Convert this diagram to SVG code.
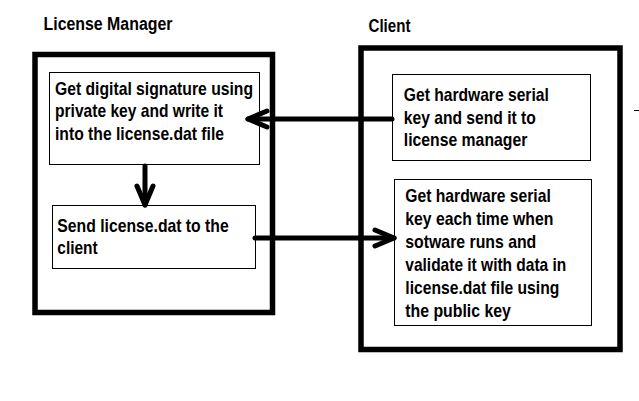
<svg xmlns="http://www.w3.org/2000/svg" width="639" height="401" viewBox="0 0 639 401">
  <style>
    .outer { fill: none; stroke: #000; stroke-width: 5.5; }
    .inner { fill: #fff; stroke: #000; stroke-width: 1; }
    .t { font-family: "Liberation Sans", Arial, sans-serif; font-weight: bold; font-size: 18.5px; fill: #000; }
    .title { font-family: "Liberation Sans", Arial, sans-serif; font-weight: bold; font-size: 17.5px; fill: #000; }
    .conn { fill: none; stroke: #000; stroke-width: 5; stroke-linecap: round; }
  </style>
  <defs>
    <marker id="chev" viewBox="-24 -12 28 24" markerWidth="28" markerHeight="24" refX="0" refY="0" orient="auto" markerUnits="userSpaceOnUse">
      <path d="M-19,-8 L0,0 L-19,8" fill="none" stroke="#000" stroke-width="5" stroke-linecap="round" stroke-linejoin="round"/>
    </marker>
  </defs>
  <rect width="639" height="401" fill="#fff"/>

  <g id="license-manager">
    <text class="title" x="43.5" y="29.5" textLength="129" lengthAdjust="spacingAndGlyphs">License Manager</text>
    <rect class="outer" x="35" y="54.5" width="237.5" height="258"/>
  </g>
  <g id="client">
    <text class="title" x="368.5" y="31.5" textLength="42" lengthAdjust="spacingAndGlyphs">Client</text>
    <rect class="outer" x="361" y="48" width="259" height="301.5"/>
  </g>

  <g id="sign">
    <rect class="inner" x="49.5" y="72.5" width="210" height="92"/>
    <text class="t" x="55" y="95" textLength="198" lengthAdjust="spacingAndGlyphs">Get digital signature using</text>
    <text class="t" x="55" y="117.3" textLength="168" lengthAdjust="spacingAndGlyphs">private key and write it</text>
    <text class="t" x="55" y="139.6" textLength="169" lengthAdjust="spacingAndGlyphs">into the license.dat file</text>
  </g>
  <g id="send">
    <rect class="inner" x="52.5" y="205.5" width="203" height="63"/>
    <text class="t" x="57.3" y="231.7" textLength="171.4" lengthAdjust="spacingAndGlyphs">Send license.dat to the</text>
    <text class="t" x="57.3" y="254" textLength="40.4" lengthAdjust="spacingAndGlyphs">client</text>
  </g>
  <g id="get-key">
    <rect class="inner" x="392.5" y="74.5" width="198" height="86"/>
    <text class="t" x="403.8" y="101" textLength="145" lengthAdjust="spacingAndGlyphs">Get hardware serial</text>
    <text class="t" x="403.8" y="123.5" textLength="132" lengthAdjust="spacingAndGlyphs">key and send it to</text>
    <text class="t" x="403.8" y="146" textLength="123.5" lengthAdjust="spacingAndGlyphs">license manager</text>
  </g>
  <g id="validate">
    <rect class="inner" x="394.5" y="179.5" width="197" height="146"/>
    <text class="t" x="405.3" y="201.5" textLength="145.5" lengthAdjust="spacingAndGlyphs">Get hardware serial</text>
    <text class="t" x="405.3" y="224.5" textLength="148" lengthAdjust="spacingAndGlyphs">key each time when</text>
    <text class="t" x="405.3" y="247.5" textLength="131" lengthAdjust="spacingAndGlyphs">sotware runs and</text>
    <text class="t" x="405.3" y="270.5" textLength="161" lengthAdjust="spacingAndGlyphs">validate it with data in</text>
    <text class="t" x="405.3" y="293.5" textLength="154" lengthAdjust="spacingAndGlyphs">license.dat file using</text>
    <text class="t" x="405.3" y="316.5" textLength="105.5" lengthAdjust="spacingAndGlyphs">the public key</text>
  </g>

  <g id="connectors">
    <line class="conn" x1="392" y1="119" x2="248" y2="119" marker-end="url(#chev)"/>
    <line class="conn" x1="145" y1="166" x2="145" y2="205" marker-end="url(#chev)"/>
    <line class="conn" x1="255" y1="238" x2="394" y2="238" marker-end="url(#chev)"/>
  </g>
  <line x1="634" y1="110.5" x2="639" y2="110.5" stroke="#000" stroke-width="1"/>
</svg>
